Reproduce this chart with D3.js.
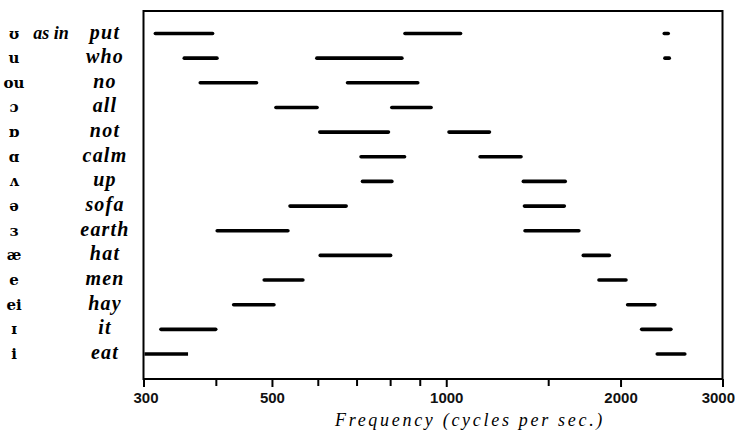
<!DOCTYPE html>
<html><head><meta charset="utf-8">
<script src="https://cdn.jsdelivr.net/npm/d3@7/dist/d3.min.js"></script>
<style>body{margin:0;background:#fff}</style>
</head><body>
<script>
const symbols = ["ʊ","u","ou","ɔ","ɒ","ɑ","ʌ","ə","ɜ","æ","e","ei","ɪ","i"];
const words = ["put","who","no","all","not","calm","up","sofa","earth","hat","men","hay","it","eat"];
// frequency bands (cycles per sec.) per vowel: [start, end]
const band1 = [[312,398],[350,405],[373,474],[504,603],[600,801],[707,854],[711,812],[533,677],[399,537],[601,808],[481,570],[426,508],[319,403],[300,361]];
const band2 = [[842,1067],[593,845],[670,900],[799,949],[1003,1197],[1135,1357],[1348,1618],[1354,1612],[1357,1708],[1711,1928],[1821,2060],[2041,2311],[2158,2463],[2296,2603]];
const band3 = [[2361,2437],[2367,2447],null,null,null,null,null,null,null,null,null,null,null,null];
const majorTicks = [300,500,1000,2000,3000];
const minorTicks = [400,600,700,800,900,1500];

const W=735,H=435;
const svg=d3.select("body").append("svg").attr("width",W).attr("height",H);
const x=d3.scaleLog().domain([300,3000]).range([143.5,722.5]);
const y=d3.scalePoint().domain(words).range([33.5,354]);
const plotTop=11,plotBottom=379;

// frame
svg.append("rect").attr("x",x(300)).attr("y",plotTop).attr("width",x(3000)-x(300)).attr("height",plotBottom-plotTop)
  .attr("fill","none").attr("stroke","#000").attr("stroke-width",2);

// axis
const ax=svg.append("g").attr("transform",`translate(0,${plotBottom})`)
  .call(d3.axisBottom(x).tickValues(majorTicks).tickFormat(d3.format("d")).tickSize(8).tickPadding(5));
ax.select(".domain").remove();
ax.selectAll("line").attr("stroke","#000").attr("stroke-width",2);
ax.selectAll("text").attr("font-family","'Liberation Sans', sans-serif").attr("font-weight","bold").attr("font-size",15).attr("fill","#111");
ax.selectAll(".tick").filter(d=>d===3000).select("text").attr("text-anchor","end").attr("dx",12);
ax.selectAll(".tick").filter(d=>d===300).select("text").attr("dx",2);
const axm=svg.append("g").attr("transform",`translate(0,${plotBottom})`)
  .call(d3.axisBottom(x).tickValues(minorTicks).tickFormat("").tickSize(7));
axm.select(".domain").remove();
axm.selectAll("line").attr("stroke","#000").attr("stroke-width",2);

// bars
const bars=[];
words.forEach((w,i)=>{[band1[i],band2[i],band3[i]].forEach(b=>{if(b)bars.push({w,b});});});
svg.append("g").selectAll("line").data(bars).join("line")
  .attr("x1",d=>x(d.b[0])+(d.b[0]===300?1:2)).attr("x2",d=>x(d.b[1])-2)
  .attr("y1",d=>y(d.w)).attr("y2",d=>y(d.w))
  .attr("stroke","#000").attr("stroke-width",3.6)
  .attr("stroke-linecap",d=>d.b[0]===300?"butt":"round");

// labels
svg.append("g").selectAll("text").data(symbols).join("text")
  .attr("x",14).attr("y",(d,i)=>y(words[i])+5).attr("text-anchor","middle")
  .attr("font-family","'DejaVu Serif', serif").attr("font-weight","bold").attr("font-size",15).text(d=>d);
svg.append("g").selectAll("text").data(words).join("text")
  .attr("x",105).attr("y",d=>y(d)+5).attr("text-anchor","middle")
  .attr("font-family","'Liberation Serif', serif").attr("font-style","italic").attr("font-weight","bold").attr("font-size",20)
  .attr("letter-spacing",1.2).text(d=>d);
svg.append("text").attr("x",51).attr("y",y("put")+5).attr("text-anchor","middle")
  .attr("font-family","'Liberation Serif', serif").attr("font-style","italic").attr("font-weight","bold").attr("font-size",18).text("as in");

svg.append("text").attr("x",470).attr("y",426).attr("text-anchor","middle")
  .attr("font-family","'Liberation Serif', serif").attr("font-style","italic").attr("font-size",18)
  .attr("letter-spacing",2.7).text("Frequency (cycles per sec.)");
</script>
</body></html>
